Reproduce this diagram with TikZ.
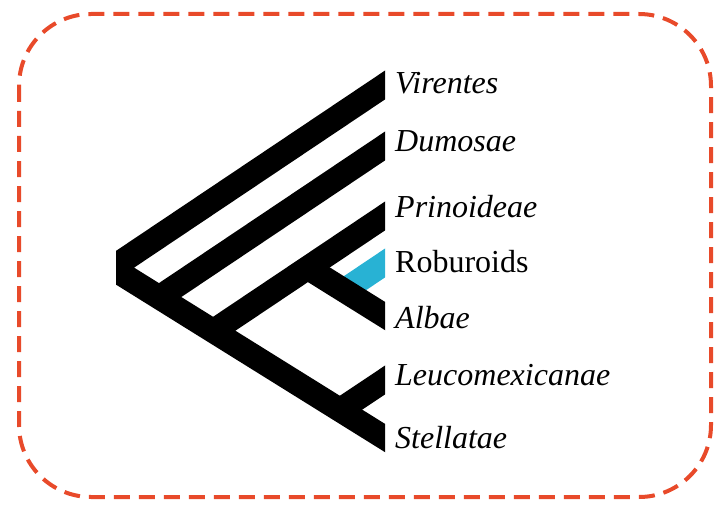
\documentclass[tikz,border=0pt]{standalone}
\usepackage{fontspec}
\setmainfont{Liberation Serif}
\definecolor{framered}{RGB}{232,74,42}
\definecolor{roburcyan}{RGB}{40,178,212}
\begin{document}
\begin{tikzpicture}[x=1pt,y=-1pt]
\tikzset{branch/.style={line width=24pt,line cap=butt,line join=miter,shorten >=-15pt},
taxon/.style={anchor=base west,inner sep=0pt,font=\fontsize{32}{32}\selectfont\itshape}}
\useasboundingbox (0,0) rectangle (728,508);
\draw[framered,line width=4pt,dash pattern=on 16pt off 9pt,rounded corners=72pt] (19,14) rectangle (711,497);

% tips and branching points
\coordinate (root) at (112,268);
\coordinate (vir) at (385,85);
\coordinate (stel) at (385,438);
\coordinate (dum) at (385,146);
\coordinate (ndum) at (159.2,297.4);
\coordinate (pri) at (385,216);
\coordinate (npri) at (213.3,331.1);
\coordinate (alb) at (385,316);
\coordinate (nalb) at (307.7,267.8);
\coordinate (rob) at (385,263);
\coordinate (nrob) at (344,290.5);
\coordinate (leu) at (385,380);
\coordinate (nleu) at (340.1,410.0);

\begin{scope}
\clip (116,0) rectangle (385,508);
\draw[branch,roburcyan] (nrob) -- (rob);
\draw[branch,shorten <=-15pt] (vir) -- (root) -- (stel);
\draw[branch] (ndum) -- (dum);
\draw[branch] (npri) -- (pri);
\draw[branch] (nalb) -- (alb);
\draw[branch] (nleu) -- (leu);
\end{scope}

\node[taxon] (lvir) at (395,94) {Virentes};
\node[taxon] (ldum) at (395,151) {Dumosae};
\node[taxon] (lpri) at (395,217) {Prinoideae};
\node[taxon] (lrob) at (395,272) {\upshape Roburoids};
\node[taxon] (lalb) at (395,328) {Albae};
\node[taxon] (lleu) at (395,385) {Leucomexicanae};
\node[taxon] (lstel) at (395,448) {Stellatae};
\end{tikzpicture}
\end{document}
